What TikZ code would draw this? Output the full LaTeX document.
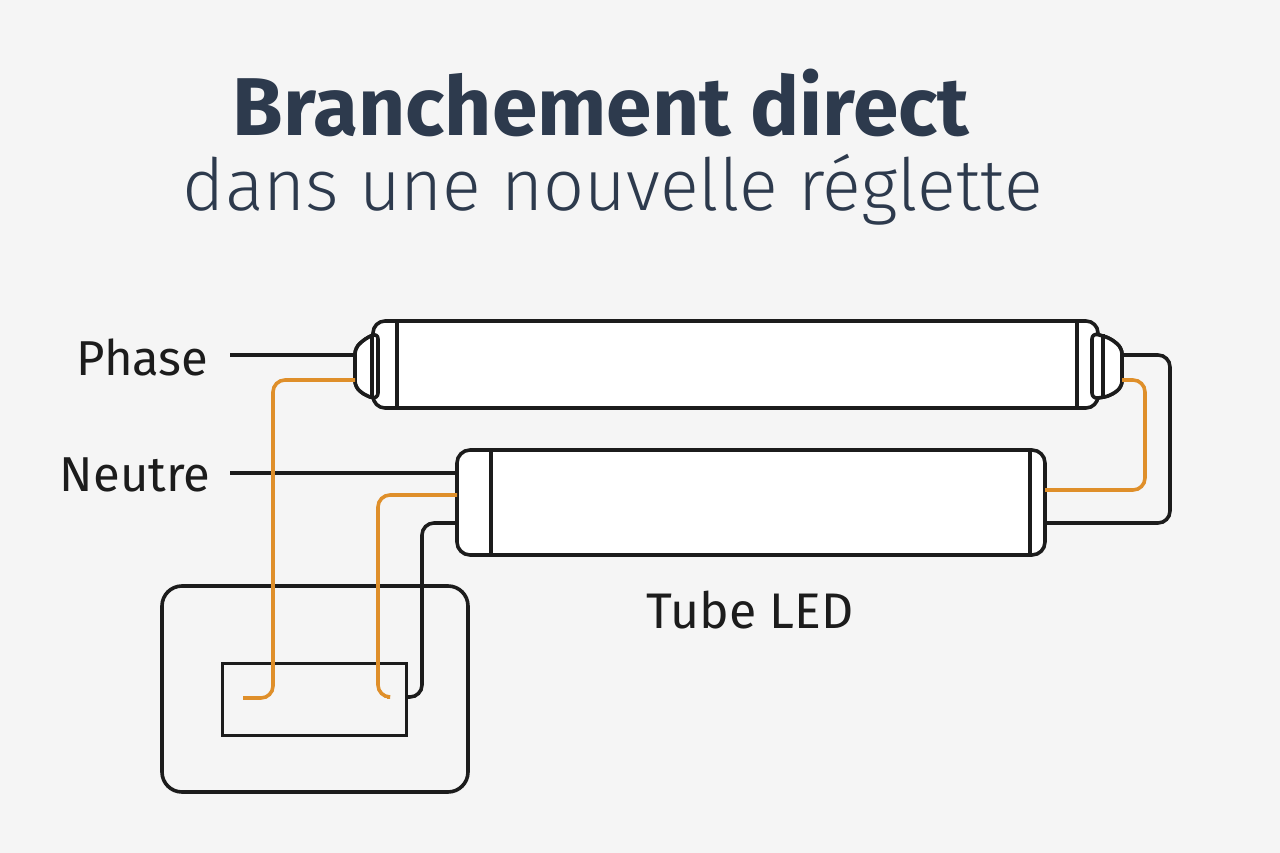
\documentclass[tikz,border=0pt]{standalone}
\usepackage{fontspec}
\setmainfont{Fira Sans}
\newfontfamily\lightf{Fira Sans Light}
\definecolor{bg}{HTML}{F5F5F5}
\definecolor{ttl}{HTML}{2D3A4D}
\definecolor{org}{HTML}{DF8F2A}
\definecolor{ink}{HTML}{1C1C1C}
\begin{document}
\begin{tikzpicture}[x=1pt,y=-1pt,
  bk/.style={draw=ink,line width=3.6pt,line join=round},
  ow/.style={draw=org,line width=3.6pt,rounded corners=12pt},
  bw/.style={draw=ink,line width=3.6pt,rounded corners=12pt},
  lbl/.style={text=ink,font=\fontsize{49}{52}\selectfont}]
\fill[bg] (0,0) rectangle (1280,853);
\useasboundingbox (0,0) rectangle (1280,853);
\node[text=ttl,font=\fontsize{82}{86}\bfseries\selectfont] (t1) at (601,103) {Branchement direct};
\node[text=ttl,font=\lightf\fontsize{72}{76}\selectfont] (t2) at (613,190) {dans une nouvelle réglette};
\node[lbl,anchor=east] (ph) at (212,357) {Phase};
\node[lbl,anchor=east] (ne) at (214,475) {Neutre};
\node[lbl,font=\fontsize{50}{54}\selectfont] (tl) at (750,610) {Tube LED};
% top tube caps
\draw[bk,fill=white,rounded corners=6pt] (378,333) -- (366,338) -- (355,348) -- (355,387) -- (366,396) -- (378,399) -- cycle;
\draw[bk,fill=white,rounded corners=6pt] (1092,333) -- (1110,338) -- (1122,348) -- (1122,387) -- (1110,396) -- (1092,399) -- cycle;
\draw[bk,fill=white,rounded corners=12pt] (373,321) rectangle (1098,408);
\draw[bk,fill=white,rounded corners=6pt] (378,333) -- (366,338) -- (355,348) -- (355,387) -- (366,396) -- (378,399) -- cycle;
\draw[bk,fill=white,rounded corners=6pt] (1092,333) -- (1110,338) -- (1122,348) -- (1122,387) -- (1110,396) -- (1092,399) -- cycle;
\draw[bk] (372,334)--(372,398) (397,321)--(397,408) (1077,321)--(1077,408) (1103,334)--(1103,398);
\coordinate (tl1) at (355,355); \coordinate (tl2) at (355,380);
\coordinate (tr1) at (1122,355); \coordinate (tr2) at (1122,380);
% bottom tube
\draw[bk,fill=white,rounded corners=13pt] (457,450) rectangle (1045,555);
\draw[bk] (491,450)--(491,555) (1030,450)--(1030,555);
\coordinate (bl1) at (457,473); \coordinate (bl2) at (457,495); \coordinate (bl3) at (457,523);
\coordinate (br1) at (1045,490); \coordinate (br2) at (1045,523);
% box
\draw[bk,rounded corners=20pt] (162,586) rectangle (468,792);
\draw[draw=ink,line width=3pt] (222,663) rectangle (406,735);
\coordinate (o1) at (243,698); \coordinate (o2) at (387,697); \coordinate (b3) at (405,697);
\coordinate (pe) at (230,355); \coordinate (ns) at (230,473);
% wires
\draw[bk] (pe) -- (tl1);
\draw[bk] (ns) -- (bl1);
\draw[ow] (tl2) -- (273,380) -- (273,698) -- (o1);
\draw[ow] (bl2) -- (378,495) -- (378,697) -- (o2);
\draw[bw] (bl3) -- (422,523) -- (422,697) -- (b3);
\draw[bw] (br2) -- (1170,523) -- (1170,355) -- (tr1);
\draw[ow] (tr2) -- (1145,380) -- (1145,490) -- (br1);
\end{tikzpicture}
\end{document}
